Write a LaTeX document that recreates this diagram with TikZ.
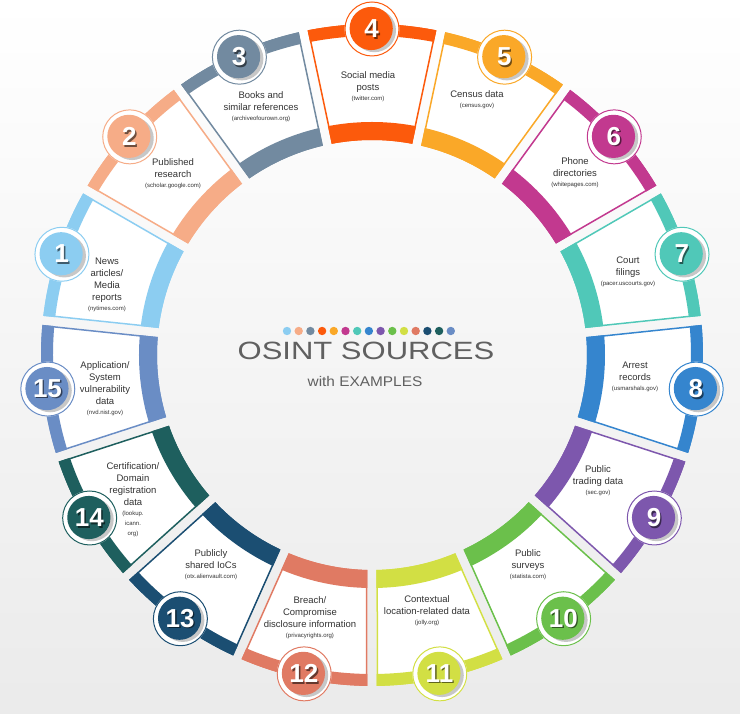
\documentclass[tikz,border=0pt]{standalone}
\usepackage{fontspec}
\setmainfont{Liberation Sans}
\usetikzlibrary{calc}

% palette, one colour per source
\definecolor{c1}{HTML}{8CCDF1}
\definecolor{c2}{HTML}{F6AC87}
\definecolor{c3}{HTML}{728AA0}
\definecolor{c4}{HTML}{FC5A0C}
\definecolor{c5}{HTML}{FAA828}
\definecolor{c6}{HTML}{C2398F}
\definecolor{c7}{HTML}{50C8B8}
\definecolor{c8}{HTML}{3585CE}
\definecolor{c9}{HTML}{7D57AD}
\definecolor{c10}{HTML}{6BC04B}
\definecolor{c11}{HTML}{D2DF44}
\definecolor{c12}{HTML}{E07A63}
\definecolor{c13}{HTML}{1B4E72}
\definecolor{c14}{HTML}{1E5F5E}
\definecolor{c15}{HTML}{6A8DC5}
\definecolor{labelgray}{HTML}{333333}
\definecolor{titlegray}{HTML}{606060}

\tikzset{
  seglabel/.style={align=center, text=labelgray, inner sep=0pt,
    font=\fontsize{9.5}{11.8}\selectfont},
  numtext/.style={text=white, inner sep=0pt,
    font=\fontsize{26}{26}\selectfont\bfseries},
  dotmark/.style={circle, inner sep=0pt, minimum size=8.4pt},
}
\newcommand\urlline[1]{\\[-1.5pt]{\fontsize{6}{7}\selectfont #1}}
% white number with a dark drop shadow behind it
\newcommand\shadednum[2]{\makebox[0pt][l]{\hspace{1.4pt}\raisebox{-1.6pt}{\textcolor{#1}{#2}}}#2}

\begin{document}
\begin{tikzpicture}
  \useasboundingbox (-372pt,-359pt) rectangle (368pt,355pt);
  \shade[top color=white, bottom color=black!8] (-372pt,-359pt) rectangle (368pt,355pt);

  % ring of fifteen framed sectors
  \foreach \k in {1,...,15} {
    \pgfmathsetmacro\c{90-24*(\k-4)}
    \begin{scope}
      \clip (\c+11.22:331pt) arc[start angle=\c+11.22, end angle=\c-11.22, radius=331pt]
        -- (\c-10.8:215pt) arc[start angle=\c-10.8, end angle=\c+10.8, radius=215pt] -- cycle;
      \fill[white] (0,0) circle (340pt);
      \draw[c\k, line width=24pt] (0,0) circle (331pt);
      \draw[c\k, line width=36pt] (0,0) circle (215pt);
      \draw[c\k, line width=3pt] (\c+11.22:331pt) arc[start angle=\c+11.22, end angle=\c-11.22, radius=331pt]
        -- (\c-10.8:215pt) arc[start angle=\c-10.8, end angle=\c+10.8, radius=215pt] -- cycle;
    \end{scope}
  }

  % numbered badges on the outer rim
  \foreach \k in {1,...,15} {
    \pgfmathsetmacro\c{90-24*(\k-4)}
    \begin{scope}[shift={(\c:326pt)}]
      \fill[white] (0,0) circle (27.5pt);
      \draw[c\k, line width=1pt] (0,0) circle (27pt);
      \fill[black!22] (2.4pt,-1.6pt) circle (21.6pt);
      \fill[c\k] (-0.8pt,0.5pt) circle (21.6pt);
      \node[numtext] (n\k) at (-0.3pt,-0.3pt) {\shadednum{c\k!45!black}{\k}};
    \end{scope}
  }

  % sector texts
  \node[seglabel] (l1) at (-265pt,70pt) {News\\articles/\\Media\\reports\urlline{(nytimes.com)}};
  \node[seglabel] (l2) at (-199pt,181pt) {Published\\research\urlline{(scholar.google.com)}};
  \node[seglabel] (l3) at (-111pt,248pt) {Books and\\similar references\urlline{(archiveofourown.org)}};
  \node[seglabel] (l4) at (-4pt,268pt) {Social media\\posts\urlline{(twitter.com)}};
  \node[seglabel] (l5) at (105pt,255pt) {Census data\urlline{(census.gov)}};
  \node[seglabel] (l6) at (203pt,182pt) {Phone\\directories\urlline{(whitepages.com)}};
  \node[seglabel] (l7) at (256pt,83pt) {Court\\filings\urlline{(pacer.uscourts.gov)}};
  \node[seglabel] (l8) at (263pt,-22pt) {Arrest\\records\urlline{(usmarshals.gov)}};
  \node[seglabel] (l9) at (226pt,-126pt) {Public\\trading data\urlline{(sec.gov)}};
  \node[seglabel] (l10) at (156pt,-210pt) {Public\\surveys\urlline{(statista.com)}};
  \node[seglabel] (l11) at (55pt,-256pt) {Contextual\\location-related data\urlline{(jolly.org)}};
  \node[seglabel] (l12) at (-62pt,-263pt) {Breach/\\Compromise\\disclosure information\urlline{(privacyrights.org)}};
  \node[seglabel] (l13) at (-161pt,-210pt) {Publicly\\shared IoCs\urlline{(otx.alienvault.com)}};
  \node[seglabel] (l14) at (-239pt,-145pt) {Certification/\\Domain\\registration\\data\urlline{(lookup.}\urlline{icann.}\urlline{org)}};
  \node[seglabel] (l15) at (-267pt,-34pt) {Application/\\System\\vulnerability\\data\urlline{(nvd.nist.gov)}};

  % centre title with colour key
  \foreach \k in {1,...,15} {
    \node[dotmark, fill=c\k] (dot\k) at (-85pt+11.7pt*\k-11.7pt, 24pt) {};
  }
  \node[text=titlegray, inner sep=0pt, font=\fontsize{25}{25}\selectfont] (title) at (-6pt,4pt)
    {\scalebox{1.24}[1]{OSINT SOURCES}};
  \node[text=titlegray, inner sep=0pt, font=\fontsize{14}{14}\selectfont] (subtitle) at (-7pt,-27pt)
    {\scalebox{1.1}[1]{with EXAMPLES}};
\end{tikzpicture}
\end{document}
